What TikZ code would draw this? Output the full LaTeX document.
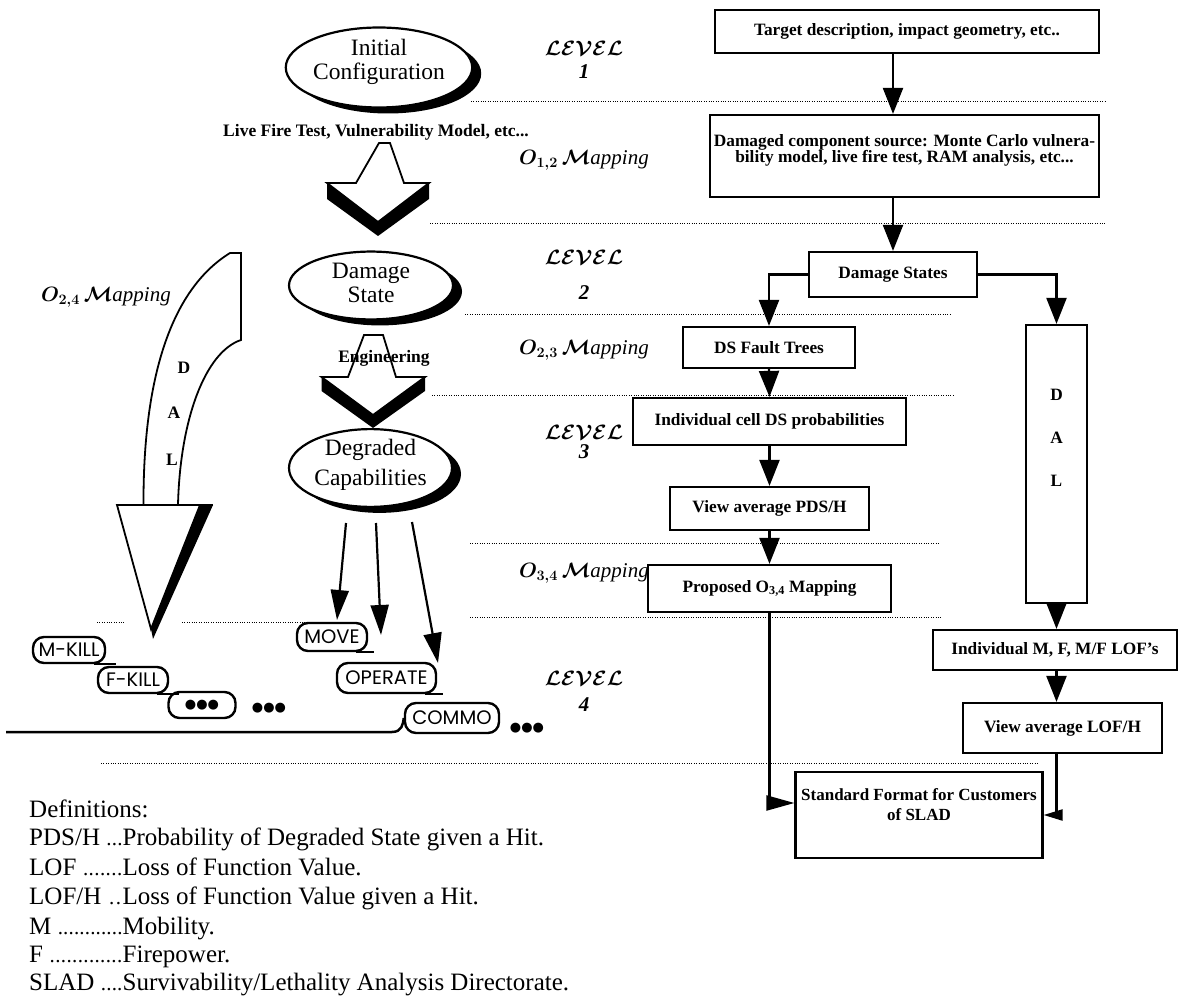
\documentclass[tikz,border=0pt]{standalone}
\usepackage{fontspec}
\setmainfont{Liberation Serif}
\newfontfamily\pillfont{Poppins}
\newfontfamily\dvfont{DejaVu Sans}
\usetikzlibrary{arrows.meta,shapes.geometric,shadows,calc}
\newcommand\fs[2]{\fontsize{#1}{#2}\selectfont}
\newcommand\dotlead{\xleaders\hbox{\fs{21}{21}.}\hfill}
\newcommand\up[2]{\raisebox{#1}[\height][\depth]{\begin{tabular}{@{}c@{}}#2\end{tabular}}}
\newcommand\lev{{\boldmath$\mathcal{LEVEL}$}}
\newcommand\omap[1]{{\boldmath$O_{#1}\,\mathcal{M}$}\textit{apping}}
\begin{document}
\begin{tikzpicture}[x=1pt,y=-1pt,
  fbox/.style={draw, line width=2.2pt, fill=white, inner sep=1pt, align=center, font=\bfseries\fs{17.3}{15}},
  arr/.style={line width=2.2pt, -{Triangle[width=20pt,length=26pt]}},
  arrD/.style={line width=2.2pt, -{Triangle[width=18pt,length=30pt]}},
  arrL/.style={line width=2.2pt, -{Triangle[width=15pt,length=28pt]}},
  arrS/.style={line width=2.2pt, -{Triangle[width=11pt,length=19pt]}},
  dotln/.style={line width=1pt, dash pattern=on 1pt off 1.4pt},
  oval/.style={ellipse, draw, line width=2.2pt, fill=white, inner sep=0pt, font=\fs{23.5}{25},
    general shadow={fill=black, shadow xshift=9pt, shadow yshift=-6pt}},
  pill/.style={draw, line width=2.4pt, rounded corners=11pt, fill=white, inner sep=0pt, font=\pillfont\fs{19.5}{19}},
  tail/.style={line width=2.4pt},
  lvl/.style={font=\fs{21}{22}},
  hollow/.style={draw, line width=1.8pt, fill=white, line join=miter},
  dalf/.style={font=\bfseries\fs{17.5}{17}},
  lbl/.style={font=\bfseries\fs{17.5}{17}},
  deff/.style={font=\fs{25}{26}, anchor=base west, inner sep=0pt},
  dots/.style={font=\dvfont\fs{13}{13}}
]
\useasboundingbox (0,0) rectangle (1178,1008);
\fill[white] (0,0) rectangle (1178,1008);

% level separators
\draw[dotln] (471,102) -- (1106,102);
\draw[dotln] (430,224) -- (1106,224);
\draw[dotln] (465,315) -- (952,315);
\draw[dotln] (432,395) -- (954,395);
\draw[dotln] (470,543) -- (940,543);
\draw[dotln] (470,617) -- (942,617);
\draw[dotln] (97,622) -- (124,622);
\draw[dotln] (182,622) -- (314,622);
\draw[dotln] (101,763) -- (1038,763);

% level labels
\node[lvl] (lv1) at (584,48) {\lev};
\node[lvl] (lv1n) at (584,72) {\textbf{\textit{1}}};
\node[lvl] (o12) at (584,160) {\omap{1,2}};
\node[lvl] (lv2) at (584,257) {\lev};
\node[lvl] (lv2n) at (584,293) {\textbf{\textit{2}}};
\node[lvl] (o23) at (584,350) {\omap{2,3}};
\node[lvl] (lv3) at (584,432) {\lev};
\node[lvl] (lv3n) at (584,452) {\textbf{\textit{3}}};
\node[lvl] (o34) at (584,573) {\omap{3,4}};
\node[lvl] (lv4) at (584,678) {\lev};
\node[lvl] (lv4n) at (584,705) {\textbf{\textit{4}}};
\node[lvl] (o24) at (106,297) {\omap{2,4}};

% left: ellipses and hollow arrows
\node[oval, minimum width=160pt, minimum height=80pt] (init) at (379,67.5) {\up{5pt}{Initial\\[-1pt]Configuration}};
\node[lbl] (lft) at (376,132) {Live Fire Test, Vulnerability Model, etc...};
\fill (327,183) -- (327,199) -- (378,236) -- (429,199) -- (429,183) -- (378,222) -- cycle;
\draw[hollow] (379,143) -- (390,143) -- (404,183) -- (429,183) -- (378,222) -- (327,183) -- (356,183) -- cycle;

\node[oval, minimum width=164pt, minimum height=66pt] (dmgst) at (371,285.5) {\up{0pt}{Damage\\[-2pt]State}};
\fill (321.5,377) -- (321.5,391) -- (373,428) -- (425,391) -- (425,377) -- (373,415) -- cycle;
\draw[hollow] (364,335) -- (383,335) -- (396,377) -- (425,377) -- (373,415) -- (321.5,377) -- (348,377) -- cycle;
\node[lbl] (eng) at (384,358) {Engineering};

\node[oval, minimum width=163pt, minimum height=70pt] (degr) at (370.5,468) {\up{3pt}{Degraded\\[5pt]Capabilities}};

% DAL curved arrow
\draw[hollow] (143.5,505) .. controls (143,380) and (170,290) .. (230,253) -- (241,253) -- (241,340) .. controls (205,352) and (180,420) .. (178,505) -- cycle;
\fill (197,505) -- (213,505) -- (153,639) -- (151,629) -- cycle;
\draw[hollow] (117,505) -- (200,505) -- (151,629) -- cycle;
\draw[line width=1.8pt] (200,505) -- (213,505);
\node[dalf] (dD) at (184,368) {D};
\node[dalf] (dA) at (174,413) {A};
\node[dalf] (dL) at (172,460) {L};

% capability arrows
\coordinate (a1s) at (346,523); \coordinate (a1e) at (337,620);
\coordinate (a2s) at (376,523); \coordinate (a2e) at (381,635);
\coordinate (a3s) at (412,522); \coordinate (a3e) at (438,663);
\draw[arrD] (a1s) -- (a1e);
\draw[arrD] (a2s) -- (a2e);
\draw[arrD] (a3s) -- (a3e);

% level 4 pills
\node[pill, minimum width=72pt, minimum height=26pt] (mkill) at (69,650) {M-KILL};
\node[pill, minimum width=70pt, minimum height=26pt] (fkill) at (133,680) {F-KILL};
\node[pill, minimum width=67pt, minimum height=26pt] (dpill) at (202,705) {\dvfont\fs{13}{13}●●●};
\node[dots] (dots1) at (269,708) {●●●};
\node[pill, minimum width=70pt, minimum height=28pt] (move) at (332,637) {MOVE};
\node[pill, minimum width=99pt, minimum height=30pt] (operate) at (386.5,678) {OPERATE};
\node[pill, minimum width=94pt, minimum height=30pt] (commo) at (452,718) {COMMO};
\node[dots] (dots2) at (527,728) {●●●};
\draw[tail] ($(mkill.south east)+(-12,0)$) -- ++(22,0);
\draw[tail] ($(fkill.south east)+(-12,0)$) -- ++(22,0);
\draw[tail] ($(move.south east)+(-12,0)$) -- ++(18,0);
\draw[tail] ($(operate.south east)+(-12,0)$) -- ++(18,0);
\draw[line width=2.5pt] (6,732) -- (392,732) .. controls (402,732) and (403,724) .. (commo.west);

% right flowchart
\node[fbox, minimum width=384pt, minimum height=43pt] (tgt) at (907,31.5) {Target description, impact geometry, etc..};
\node[fbox, minimum width=389pt, minimum height=82pt] (dmg) at (904.5,156) {Damaged component source: Monte Carlo vulnera-\\bility model, live fire test, RAM analysis, etc...\\ {}};
\node[fbox, minimum width=168pt, minimum height=45pt] (ds) at (893,274.5) {Damage States};
\node[fbox, minimum width=172pt, minimum height=41pt] (ft) at (769,347.5) {DS Fault Trees};
\node[fbox, minimum width=273pt, minimum height=47pt] (ind) at (769.5,421.5) {Individual cell DS probabilities};
\node[fbox, minimum width=199pt, minimum height=43pt] (vpds) at (769.5,508.5) {View average PDS/H};
\node[fbox, minimum width=243pt, minimum height=47pt] (prop) at (769.5,588.5) {Proposed O\textsubscript{3,4} Mapping};
\node[fbox, minimum width=61pt, minimum height=278pt] (dalcol) at (1056.5,464) {\up{24pt}{D\\[28pt]A\\[27pt]L}};
\node[fbox, minimum width=244pt, minimum height=40pt] (ilof) at (1055,650) {Individual M, F, M/F LOF's};
\node[fbox, minimum width=199pt, minimum height=50pt] (vlof) at (1062.5,728) {View average LOF/H};
\node[fbox, minimum width=247pt, minimum height=86pt, font=\bfseries\fs{17}{15}] (std) at (919,815) {Standard Format for Customers\\[5pt]of SLAD\\[5pt] {}};

\draw[arr] (tgt.south -| ds.north) -- (dmg.north -| ds.north);
\draw[arr] (dmg.south -| ds.north) -- (ds.north);
\draw[arr] (ds.west) -| (ft.north);
\draw[arr] (ds.east) -| (dalcol.north);
\draw[arr] (ft.south) -- (ind.north);
\draw[arr] (ind.south) -- (vpds.north);
\draw[arr] (vpds.south) -- (prop.north);
\draw[arr] (dalcol.south) -- (dalcol.south |- ilof.north);
\draw[arr] (ilof.south -| dalcol.south) -- (vlof.north -| dalcol.south);
\draw[arrL] (prop.south) |- ($(std.west)+(0,-12)$);
\draw[arrS] (vlof.south -| dalcol.south) |- (std.east);

% definitions
\node[deff] (df0) at (29,817) {Definitions:};
\node[deff] (df1) at (29,845) {\makebox[93.5pt][l]{PDS/H \dotlead}Probability of Degraded State given a Hit.};
\node[deff] (df2) at (29,875) {\makebox[93.5pt][l]{LOF \dotlead}Loss of Function Value.};
\node[deff] (df3) at (29,904) {\makebox[93.5pt][l]{LOF/H \dotlead}Loss of Function Value given a Hit.};
\node[deff] (df4) at (29,934) {\makebox[93.5pt][l]{M \dotlead}Mobility.};
\node[deff] (df5) at (29,962) {\makebox[93.5pt][l]{F \dotlead}Firepower.};
\node[deff] (df6) at (29,990) {\makebox[93.5pt][l]{SLAD \dotlead}Survivability/Lethality Analysis Directorate.};
\end{tikzpicture}
\end{document}
